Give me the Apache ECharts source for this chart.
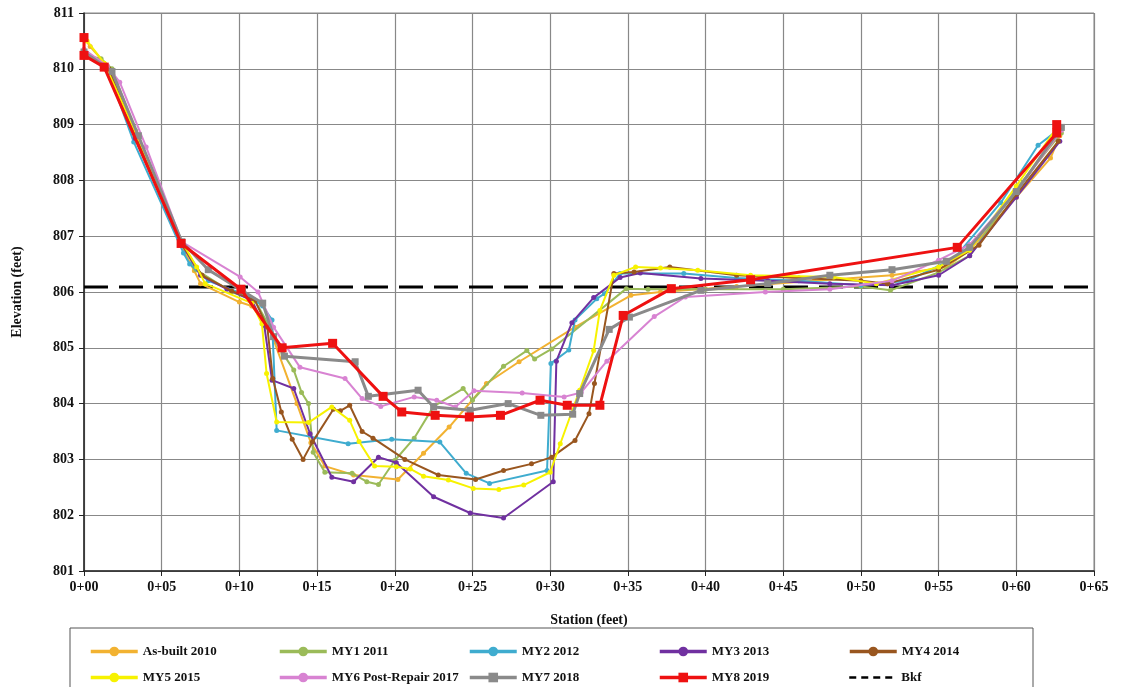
<!DOCTYPE html>
<html>
<head>
<meta charset="utf-8">
<script src="https://cdn.jsdelivr.net/npm/echarts@6/dist/echarts.min.js"></script>
<style>
  html, body { margin: 0; padding: 0; background: #fff; }
  #chart { width: 1123px; height: 687px; }
</style>
</head>
<body>
<div id="chart"></div>
<script>
// survey data: [station ft, elevation ft]
var asBuilt2010 = [[0,810.55],[0.4,810.4],[1.5,810.05],[3.5,808.7],[6.2,806.85],[7.1,806.38],[7.5,806.15],[10.0,805.82],[10.8,805.75],[12.0,805.3],[13.7,804.0],[14.6,803.3],[15.5,802.88],[17.35,802.72],[20.2,802.64],[21.85,803.11],[23.5,803.58],[25.9,804.36],[28.0,804.75],[31.6,805.37],[35.2,805.94],[37.1,806.0],[42,806.1],[47,806.2],[52,806.3],[55.5,806.45],[57,806.75],[60,807.7],[62.2,808.4],[62.8,808.8]];
var my1_2011 = [[0,810.25],[1.1,810.18],[1.8,810.0],[3.3,808.9],[6.3,806.9],[7.2,806.4],[9.5,806.0],[11.0,805.85],[12.0,805.35],[12.8,804.9],[13.5,804.6],[14.0,804.2],[14.45,804.0],[14.75,803.13],[15.5,802.77],[17.25,802.75],[18.2,802.6],[18.95,802.55],[20.0,802.98],[21.25,803.38],[22.5,803.95],[24.4,804.27],[25.0,804.06],[27.0,804.67],[28.5,804.95],[29.0,804.8],[30.1,804.98],[34.9,806.06],[36.3,806.05],[40,806.05],[45,806.05],[50,806.1],[51.9,806.03],[55,806.35],[57,806.65],[60,807.85],[62.9,808.85]];
var my2_2012 = [[0,810.3],[1.5,810.0],[3.2,808.69],[6.4,806.7],[6.8,806.5],[8,806.2],[10.5,805.94],[11.5,805.75],[12.1,805.5],[12.4,803.52],[17.0,803.28],[19.8,803.36],[22.9,803.31],[24.6,802.75],[26.1,802.57],[29.8,802.8],[30.05,804.72],[31.2,804.96],[31.6,805.5],[33.0,805.88],[33.5,805.97],[34.5,806.33],[38.6,806.33],[42,806.25],[46,806.2],[50,806.12],[53,806.2],[56,806.6],[59,807.6],[61.4,808.63],[62.9,808.95]];
var my3_2013 = [[0,810.3],[1.5,810.0],[3.3,808.75],[6.3,806.85],[7.5,806.3],[9.2,806.05],[10.8,805.85],[11.6,805.4],[12.1,804.42],[13.5,804.27],[14.55,803.46],[15.95,802.68],[17.35,802.6],[18.95,803.04],[20.1,802.94],[22.5,802.33],[24.85,802.04],[27.0,801.95],[30.2,802.6],[30.4,804.76],[31.4,805.45],[32.8,805.9],[34.5,806.26],[35.8,806.34],[39.7,806.24],[44,806.2],[48,806.15],[52,806.12],[55,806.3],[57,806.65],[60,807.7],[62.8,808.7]];
var my4_2014 = [[0,810.3],[1.6,810.0],[3.4,808.75],[6.3,806.85],[7.6,806.3],[9.5,806.02],[11.0,805.85],[11.8,805.37],[12.15,804.45],[12.7,803.85],[13.4,803.36],[14.1,803.0],[14.7,803.31],[16.05,803.9],[16.5,803.87],[17.1,803.97],[17.9,803.5],[18.6,803.38],[20.65,803.0],[22.8,802.72],[25.2,802.64],[27.0,802.8],[28.8,802.92],[30.1,803.04],[31.6,803.34],[32.5,803.82],[32.85,804.36],[34.1,806.33],[35.4,806.36],[37.7,806.45],[42,806.3],[46,806.25],[50,806.2],[51.7,806.15],[55,806.4],[57.6,806.84],[60,807.75],[62.7,808.7]];
var my5_2015 = [[0.2,810.5],[1.3,810.1],[3.5,808.75],[6.3,806.9],[7.25,806.45],[7.8,806.15],[10.8,805.8],[11.45,805.43],[11.75,804.54],[12.4,803.67],[14.45,803.66],[15.95,803.94],[17.1,803.7],[17.7,803.32],[18.7,802.88],[20.1,802.87],[21.0,802.83],[21.85,802.7],[23.45,802.63],[25.05,802.48],[26.7,802.46],[28.3,802.54],[30.0,802.77],[30.65,803.28],[31.9,804.24],[32.8,804.95],[33.2,805.67],[34.1,806.3],[35.5,806.45],[37.1,806.43],[39.5,806.39],[42.9,806.3],[48.25,806.27],[51.0,806.15],[55,806.45],[57,806.75],[60,807.9],[62.5,808.9]];
var my6_2017 = [[0,810.35],[1.5,810.05],[2.3,809.76],[4,808.6],[6.3,806.9],[10.05,806.27],[11.2,806.0],[12.2,805.37],[13.9,804.65],[16.8,804.45],[17.9,804.09],[19.1,803.95],[21.25,804.12],[22.7,804.06],[23.9,803.94],[25.1,804.23],[28.2,804.19],[30.9,804.12],[32.0,804.2],[33.65,804.76],[36.7,805.56],[38.7,805.91],[43.85,806.0],[48,806.05],[52,806.2],[55,806.57],[57,806.85],[60,807.8],[62.9,808.9]];
var my7_2018 = [[0,810.3],[1.8,809.95],[3.5,808.8],[6.3,806.9],[8.0,806.4],[10.2,806.02],[11.5,805.8],[12.2,805.2],[12.9,804.85],[17.45,804.75],[18.3,804.13],[21.5,804.24],[22.5,803.94],[24.85,803.88],[27.3,804.0],[29.4,803.79],[31.45,803.81],[31.9,804.18],[33.8,805.33],[35.1,805.55],[39.7,806.03],[44,806.15],[48,806.3],[52,806.4],[55.5,806.55],[57,806.8],[60,807.8],[62.9,808.95]];
var my8_2019 = [[0,810.56],[0,810.24],[1.3,810.03],[6.25,806.87],[10.1,806.05],[12.75,805.0],[16.0,805.08],[19.25,804.13],[20.45,803.85],[22.6,803.79],[24.8,803.76],[26.8,803.79],[29.35,804.06],[31.1,803.97],[33.2,803.97],[34.7,805.58],[37.8,806.06],[42.9,806.22],[56.2,806.8],[62.6,808.85],[62.6,809.0]];
var bkfElev = 806.09;
var xRange = [0, 65];

var seriesNames = ['As-built 2010', 'MY1 2011', 'MY2 2012', 'MY3 2013', 'MY4 2014',
                   'MY5 2015', 'MY6 Post-Repair 2017', 'MY7 2018', 'MY8 2019', 'Bkf'];
var seriesData = [asBuilt2010, my1_2011, my2_2012, my3_2013, my4_2014,
                  my5_2015, my6_2017, my7_2018, my8_2019];

var colors = ['#F2B231', '#9BBB59', '#3FACCF', '#7030A0', '#99561F',
              '#F7F200', '#D883D2', '#8A8A8A', '#EE1111'];

var font = 'Liberation Serif';
var myChart = echarts.init(document.getElementById('chart'));

var series = seriesData.map(function (d, i) {
    var isRed = i === 8, isGray = i === 7;
    return {
        name: seriesNames[i],
        type: 'line',
        data: d,
        symbol: (isRed || isGray) ? 'rect' : 'circle',
        symbolSize: isRed ? 9 : (isGray ? 7 : 5),
        lineStyle: { color: colors[i], width: isRed ? 3 : (isGray ? 3 : 2) },
        itemStyle: { color: colors[i] },
        z: 2 + i
    };
});
series.push({
    name: 'Bkf',
    type: 'line',
    data: [[xRange[0], bkfElev], [xRange[1], bkfElev]],
    symbol: 'none',
    lineStyle: { color: '#000', width: 3, type: [24, 11] },
    itemStyle: { color: '#000' },
    z: 1
});

// legend: one block per item so the columns line up like the original
var colLeft = [84, 273, 463, 653, 843];
var rowTop = [640, 666];
var legends = seriesNames.map(function (n, i) {
    var lg = {
        data: [n],
        left: colLeft[i % 5],
        top: rowTop[Math.floor(i / 5)],
        itemWidth: 47,
        itemHeight: 12,
        selectedMode: false,
        textStyle: { fontFamily: font, fontWeight: 'bold', fontSize: 13, color: '#111' }
    };
    if (n === 'Bkf') {
        lg.itemStyle = { opacity: 0 };
        lg.lineStyle = { type: [7, 5], width: 2.5, color: '#000' };
    } else {
        lg.lineStyle = { width: 3.5 };
    }
    return lg;
});

var option = {
    animation: false,
    backgroundColor: '#fff',
    grid: { left: 84, right: 29, top: 13, bottom: 116, show: true, borderColor: '#888', borderWidth: 1 },
    legend: legends,
    graphic: [{
        type: 'rect',
        shape: { x: 70, y: 628, width: 963, height: 70 },
        style: { fill: 'none', stroke: '#555', lineWidth: 1 }
    }],
    xAxis: {
        type: 'value',
        min: 0, max: 65, interval: 5,
        name: 'Station (feet)',
        nameLocation: 'middle',
        nameGap: 42,
        nameTextStyle: { fontFamily: font, fontWeight: 'bold', fontSize: 14, color: '#111' },
        axisLine: { lineStyle: { color: '#222', width: 1.5 } },
        axisTick: { show: true, length: 5, lineStyle: { color: '#222' } },
        axisLabel: {
            fontFamily: font, fontWeight: 'bold', fontSize: 14, color: '#111', margin: 9,
            formatter: function (v) { return '0+' + (v < 10 ? '0' + v : v); }
        },
        splitLine: { lineStyle: { color: '#888', width: 1.2 } }
    },
    yAxis: {
        type: 'value',
        min: 801, max: 811, interval: 1,
        name: 'Elevation (feet)',
        nameLocation: 'middle',
        nameGap: 60,
        nameTextStyle: { fontFamily: font, fontWeight: 'bold', fontSize: 14, color: '#111' },
        axisLine: { show: true, lineStyle: { color: '#222', width: 1.5 } },
        axisTick: { show: true, length: 5, lineStyle: { color: '#222' } },
        axisLabel: { fontFamily: font, fontWeight: 'bold', fontSize: 14, color: '#111', margin: 10 },
        splitLine: { lineStyle: { color: '#888', width: 1.2 } }
    },
    series: series
};

myChart.setOption(option);
window.addEventListener('resize', function () {
    myChart.resize();
});
</script>
</body>
</html>
